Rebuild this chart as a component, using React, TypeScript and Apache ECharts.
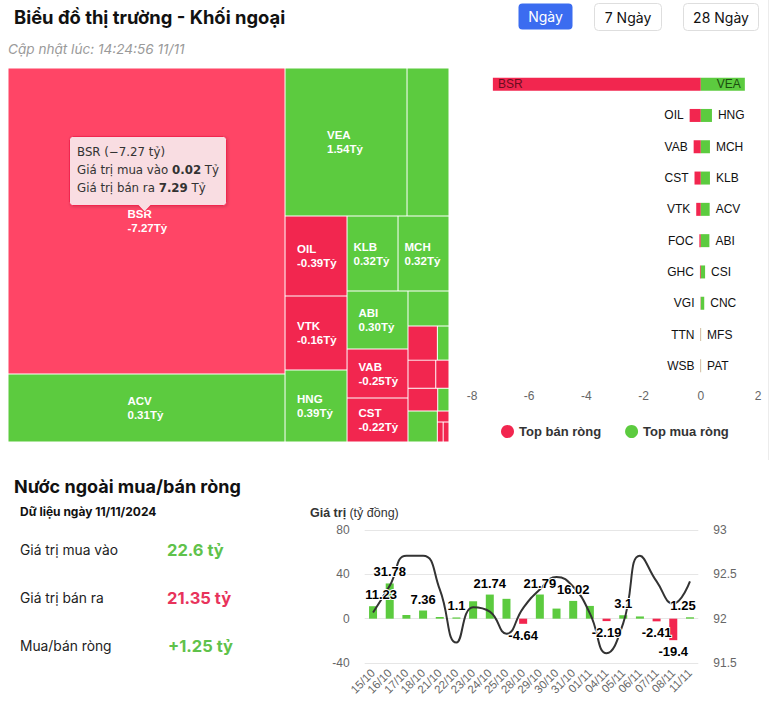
import React, { useEffect, useRef } from "react";
import * as echarts from "echarts";

// ---------------- colours / fonts ----------------
const RED = "#f2264f";
const RED_HOVER = "#ff4566";
const GREEN = "#5ccb3f";
const TEXT_GREEN = "#5fc24b";
const TEXT_RED = "#e8335b";
const UI_FONT = "Inter, 'Noto Sans', sans-serif";
const CHART_FONT = "'Liberation Sans', Arial, sans-serif";
const TIP_FONT = "'DejaVu Sans', sans-serif";

// ---------------- header ----------------
const pageTitle = "Biểu đồ thị trường - Khối ngoại";
const updatedAt = "Cập nhật lúc: 14:24:56 11/11";
const periodButtons = ["Ngày", "7 Ngày", "28 Ngày"];

// ---------------- treemap (cell sizes read from the areas, net values from labels) ----------------
const tmNames = ["BSR", "ACV", "VEA", "x3", "OIL", "VTK", "HNG", "KLB", "MCH", "ABI", "VAB", "CST",
  "x12", "x13", "x14", "x15", "x16", "x17", "x18", "x19", "x20", "x21", "x22"];
const tmSize = [7.27, 1.616, 1.549, 0.533, 0.425, 0.394, 0.383, 0.328, 0.328, 0.303, 0.256, 0.23,
  0.123, 0.086, 0.034, 0.067, 0.032, 0.058, 0.022, 0.078, 0.011, 0.01, 0.01];
const tmNet = [-7.27, 0.31, 1.54, 0.53, -0.39, -0.16, 0.39, 0.32, 0.32, 0.3, -0.25, -0.22,
  0.12, -0.09, 0.03, -0.07, -0.03, -0.06, 0.02, 0.08, -0.01, -0.01, -0.01];
const tmLabelled = [1, 1, 1, 0, 1, 1, 1, 1, 1, 1, 1, 1, 0, 0, 0, 0, 0, 0, 0, 0, 0, 0, 0];
// grouping of the cells (layout structure)
const tmGroups: any[] = [0, 1, 2, 3, [[4, 5, 6], [7, 8, [[[9, 10], 11], [12, [13, 14, 15, 16, 17, 18, 19, 20, 21, 22]]]]]];

// hovered point (tooltip)
const tipName = "BSR";
const tipNet = -7.27;
const tipBuy = 0.02;
const tipSell = 7.29;

// ---------------- top net sell / buy ----------------
const sellNames = ["BSR", "OIL", "VAB", "CST", "VTK", "FOC", "GHC", "VGI", "TTN", "WSB"];
const sellValues = [-7.27, -0.39, -0.25, -0.22, -0.16, -0.05, -0.03, -0.01, -0.01, -0.01];
const buyNames = ["VEA", "HNG", "MCH", "KLB", "ACV", "ABI", "CSI", "CNC", "MFS", "PAT"];
const buyValues = [1.54, 0.39, 0.32, 0.32, 0.31, 0.3, 0.15, 0.12, 0.01, 0.01];
const topAxisMin = -8;
const topAxisMax = 2;
const topAxisStep = 2;
const legendNames = ["Top bán ròng", "Top mua ròng"];

// ---------------- summary ----------------
const sectionTitle = "Nước ngoài mua/bán ròng";
const summaryDate = "11/11/2024";
const summaryLabels = ["Giá trị mua vào", "Giá trị bán ra", "Mua/bán ròng"];
const summaryValues = [22.6, 21.35, 1.25];

// ---------------- flows chart ----------------
const flowDates = ["15/10", "16/10", "17/10", "18/10", "21/10", "22/10", "23/10", "24/10", "25/10", "28/10",
  "29/10", "30/10", "31/10", "01/11", "04/11", "05/11", "06/11", "07/11", "08/11", "11/11"];
const netFlow = [11.23, 31.78, 3.3, 7.36, 1.5, 1.1, 15.7, 21.74, 17.9, -4.64,
  21.79, 9.1, 16.02, 11.5, -2.19, 3.1, 2.0, -2.41, -19.4, 1.25];
const flowLabelShown = [1, 1, 0, 1, 0, 1, 0, 1, 0, 1, 1, 0, 1, 0, 1, 1, 0, 1, 1, 1];
// horizontal nudge of a few value labels (overlap / edge avoidance in the original)
const flowLabelShift = [8, 0, 0, 0, 0, 0, 0, 0, 0, 0, 0, 0, 0, 0, 0, 0, 0, 0, 0, -7];
const indexLine = [92.07, 92.37, 92.71, 92.71, 92.33, 91.73, 92.13, 92.08, 91.83, 92.12,
  92.33, 92.47, 92.36, 92.06, 91.61, 91.95, 92.71, 92.42, 92.17, 92.42];
const leftAxisMin = -40, leftAxisMax = 80, leftAxisStep = 40;
const rightAxisMin = 91.5, rightAxisMax = 93, rightAxisStep = 0.5;

// ---------------- helpers ----------------
const fmt2 = (v: number) => v.toFixed(2);
let groupId = 0;

function buildNode(n: any): any {
  if (typeof n === "number") {
    const name = tmNames[n];
    const neg = tmNet[n] < 0;
    const color = neg ? (name === tipName ? RED_HOVER : RED) : GREEN;
    return {
      name,
      value: tmSize[n],
      itemStyle: { color, borderWidth: 0.5, borderColor: "#fff" },
      label: tmLabelled[n]
        ? { show: true, formatter: `${name}\n${fmt2(tmNet[n])}Tỷ` }
        : { show: false },
    };
  }
  const children = n.map(buildNode);
  groupId += 1;
  return {
    name: "group" + groupId,
    value: children.reduce((s: number, c: any) => s + c.value, 0),
    children,
    itemStyle: { borderWidth: 0, gapWidth: 0 },
    label: { show: false },
  };
}

function txt(x: number, y: number, text: string, font: string, fill: string, align = "left", rich?: any, z = 10) {
  return {
    type: "text",
    x,
    y,
    z,
    silent: true,
    style: {
      text,
      font,
      fill,
      align,
      verticalAlign: "middle",
      textAlign: align,
      textVerticalAlign: "middle",
      rich,
    },
  };
}

function button(x: number, y: number, w: number, h: number, label: string, active: boolean) {
  return [
    {
      type: "rect",
      silent: true,
      shape: { x, y, width: w, height: h, r: 4 },
      style: active ? { fill: "#3b6cf0" } : { fill: "#fff", stroke: "#dedede", lineWidth: 1 },
    },
    txt(x + w / 2, y + h / 2, label, `14px ${UI_FONT}`, active ? "#fff" : "#111", "center"),
  ];
}

function buildOption() {
  groupId = 0;
  const treeData = (tmGroups as any[]).map(buildNode);
  const TZ = 100;

  const graphic: any[] = [
    txt(14, 17, pageTitle, `bold 18.4px ${UI_FONT}`, "#111"),
    txt(8, 49, updatedAt, `italic 13.6px ${UI_FONT}`, "#9a9a9a"),
    ...button(518.5, 3.5, 54, 26, periodButtons[0], true),
    ...button(594.5, 3.5, 67, 27, periodButtons[1], false),
    ...button(683.5, 3.5, 75, 27, periodButtons[2], false),
    { type: "line", silent: true, shape: { x1: 768.5, y1: 0, x2: 768.5, y2: 460 }, style: { stroke: "#ececec", lineWidth: 1 } },
    // summary block
    txt(14, 486, sectionTitle, `bold 18px ${UI_FONT}`, "#111"),
    txt(20, 511.5, "Dữ liệu ngày " + summaryDate, `bold 12px ${UI_FONT}`, "#111"),
    txt(20, 550, summaryLabels[0], `13.8px ${UI_FONT}`, "#222"),
    txt(167, 550, summaryValues[0] + " tỷ", `bold 16.5px ${UI_FONT}`, TEXT_GREEN),
    txt(20, 598, summaryLabels[1], `13.8px ${UI_FONT}`, "#222"),
    txt(167, 598, summaryValues[1] + " tỷ", `bold 16.5px ${UI_FONT}`, TEXT_RED),
    txt(20, 646, summaryLabels[2], `13.8px ${UI_FONT}`, "#222"),
    txt(168, 646, (summaryValues[2] >= 0 ? "+" : "") + summaryValues[2] + " tỷ", `bold 16.5px ${UI_FONT}`, TEXT_GREEN),
    // flows chart title
    txt(310, 513, "{b|Giá trị} {g|(tỷ đồng)}", `12px ${CHART_FONT}`, "#333", "left", {
      b: { fontFamily: CHART_FONT, fontWeight: "bold", fontSize: 12.5, color: "#222" },
      g: { fontFamily: CHART_FONT, fontSize: 12.5, color: "#9a9a9a" },
    }),
    // tooltip over the treemap
    {
      type: "rect",
      silent: true,
      z: TZ,
      shape: { x: 69.5, y: 136.5, width: 157, height: 69, r: 3 },
      style: { fill: "#f9dde2", stroke: RED, lineWidth: 1, shadowBlur: 3, shadowColor: "rgba(0,0,0,0.15)", shadowOffsetX: 1, shadowOffsetY: 1 },
    },
    { type: "polygon", silent: true, z: TZ + 1, shape: { points: [[138, 204.6], [151, 204.6], [144.5, 211.5]] }, style: { fill: "#f9dde2" } },
    { type: "polyline", silent: true, z: TZ + 1, shape: { points: [[138, 205.5], [144.5, 212], [151, 205.5]] }, style: { stroke: RED, lineWidth: 1, fill: null } },
    {
      type: "text",
      silent: true,
      z: TZ + 2,
      x: 77,
      y: 143,
      style: {
        text: `${tipName} (−${Math.abs(tipNet).toFixed(2)} tỷ)\nGiá trị mua vào {b|${fmt2(tipBuy)}} Tỷ\nGiá trị bán ra {b|${fmt2(tipSell)}} Tỷ`,
        font: `11.8px ${TIP_FONT}`,
        fill: "#333",
        lineHeight: 18,
        rich: { b: { fontWeight: "bold", fontSize: 11.8, fontFamily: TIP_FONT, color: "#333", lineHeight: 18 } },
      },
    },
  ];

  const flowBarData = netFlow.map((v) => ({
    value: v,
    itemStyle: { color: v >= 0 ? GREEN : RED },
  }));
  const flowLabelData = netFlow.map((v, i) => ({
    value: v,
    itemStyle: { color: "rgba(0,0,0,0)" },
    label: { show: !!flowLabelShown[i], position: v >= 0 ? "top" : "bottom", offset: [flowLabelShift[i], 0] },
  }));

  return {
    animation: false,
    backgroundColor: "#fff",
    textStyle: { fontFamily: CHART_FONT },
    legend: {
      data: legendNames,
      left: 496,
      top: 420,
      icon: "circle",
      itemWidth: 13,
      itemHeight: 13,
      itemGap: 24,
      selectedMode: false,
      textStyle: { fontFamily: CHART_FONT, fontWeight: "bold", fontSize: 13, color: "#333" },
    },
    grid: [
      { left: 472, top: 68.5, width: 286, height: 313, containLabel: false },
      { left: 364.7, top: 530, width: 333.6, height: 133, containLabel: false },
    ],
    xAxis: [
      {
        gridIndex: 0,
        type: "value",
        min: topAxisMin,
        max: topAxisMax,
        interval: topAxisStep,
        axisLine: { show: false },
        axisTick: { show: false },
        splitLine: { show: false },
        axisLabel: { color: "#666", fontSize: 12, fontFamily: CHART_FONT, margin: 8 },
      },
      {
        gridIndex: 1,
        type: "category",
        data: flowDates,
        axisLine: { show: false },
        axisTick: { show: false },
        axisLabel: { rotate: 45, interval: 0, color: "#666", fontSize: 11.5, fontFamily: CHART_FONT, margin: 8 },
      },
    ],
    yAxis: [
      {
        gridIndex: 0,
        type: "category",
        inverse: true,
        data: sellNames.map((n, i) => n + "/" + buyNames[i]),
        axisLine: { show: false },
        axisTick: { show: false },
        axisLabel: { show: false },
      },
      {
        gridIndex: 1,
        type: "value",
        min: leftAxisMin,
        max: leftAxisMax,
        interval: leftAxisStep,
        axisLine: { show: false },
        axisTick: { show: false },
        splitLine: { lineStyle: { color: "#e6e6e6" } },
        axisLabel: { color: "#666", fontSize: 12, fontFamily: CHART_FONT, margin: 15 },
      },
      {
        gridIndex: 1,
        type: "value",
        position: "right",
        min: rightAxisMin,
        max: rightAxisMax,
        interval: rightAxisStep,
        axisLine: { show: false },
        axisTick: { show: false },
        splitLine: { show: false },
        axisLabel: { color: "#666", fontSize: 12, fontFamily: CHART_FONT, margin: 15 },
      },
    ],
    series: [
      {
        type: "treemap",
        left: 8,
        top: 68,
        width: 441,
        height: 374,
        roam: false,
        nodeClick: false,
        sort: false,
        squareRatio: 1.855,
        breadcrumb: { show: false },
        emphasis: { disabled: true },
        itemStyle: { borderWidth: 0, gapWidth: 0, borderColor: "#fff" },
        levels: [{ itemStyle: { borderWidth: 0, gapWidth: 0 } }],
        upperLabel: { show: false },
        label: {
          show: true,
          position: ["50%", "50%"],
          align: "left",
          verticalAlign: "middle",
          offset: [-19, 0],
          padding: 0,
          overflow: "none",
          color: "#fff",
          fontSize: 11.5,
          fontWeight: "bold",
          fontFamily: CHART_FONT,
          lineHeight: 14,
        },
        data: treeData,
      },
      {
        name: legendNames[0],
        type: "bar",
        xAxisIndex: 0,
        yAxisIndex: 0,
        barWidth: 13,
        barGap: "-100%",
        color: RED,
        data: sellValues.map((v, i) => ({
          value: v,
          label: i === 0
            ? { show: true, position: "insideLeft", distance: 5, color: "#6b0d1f", formatter: sellNames[i] }
            : { show: true, position: "left", distance: 6, color: "#111", formatter: sellNames[i] },
        })),
        label: { fontFamily: CHART_FONT, fontSize: 12 },
      },
      {
        name: legendNames[1],
        type: "bar",
        xAxisIndex: 0,
        yAxisIndex: 0,
        barWidth: 13,
        barGap: "-100%",
        color: GREEN,
        data: buyValues.map((v, i) => ({
          value: v,
          label: i === 0
            ? { show: true, position: "insideRight", distance: 4, color: "#1b4d0f", formatter: buyNames[i] }
            : { show: true, position: "right", distance: 6, color: "#111", formatter: buyNames[i] },
        })),
        label: { fontFamily: CHART_FONT, fontSize: 12 },
      },
      {
        name: "flow",
        type: "bar",
        xAxisIndex: 1,
        yAxisIndex: 1,
        barWidth: 8,
        barGap: "-100%",
        z: 2,
        data: flowBarData,
      },
      {
        name: "index",
        type: "line",
        xAxisIndex: 1,
        yAxisIndex: 2,
        smooth: 0.5,
        symbol: "none",
        z: 3,
        lineStyle: { color: "#333", width: 2 },
        data: indexLine,
      },
      {
        name: "flowLabels",
        type: "bar",
        xAxisIndex: 1,
        yAxisIndex: 1,
        barWidth: 8,
        barGap: "-100%",
        z: 4,
        silent: true,
        label: {
          fontFamily: CHART_FONT,
          fontWeight: "bold",
          fontSize: 13,
          color: "#000",
          textBorderColor: "#fff",
          textBorderWidth: 2,
          distance: 5,
        },
        data: flowLabelData,
      },
    ],
    graphic,
  };
}

export default function App() {
  const ref = useRef<HTMLDivElement>(null);
  useEffect(() => {
    const chart = echarts.init(ref.current!, null, { renderer: "svg" });
    chart.setOption(buildOption() as any);
    return () => chart.dispose();
  }, []);
  return (
    <div
      ref={ref}
      style={{ position: "absolute", left: 0, top: 0, width: 771, height: 718, background: "#fff" }}
    />
  );
}
